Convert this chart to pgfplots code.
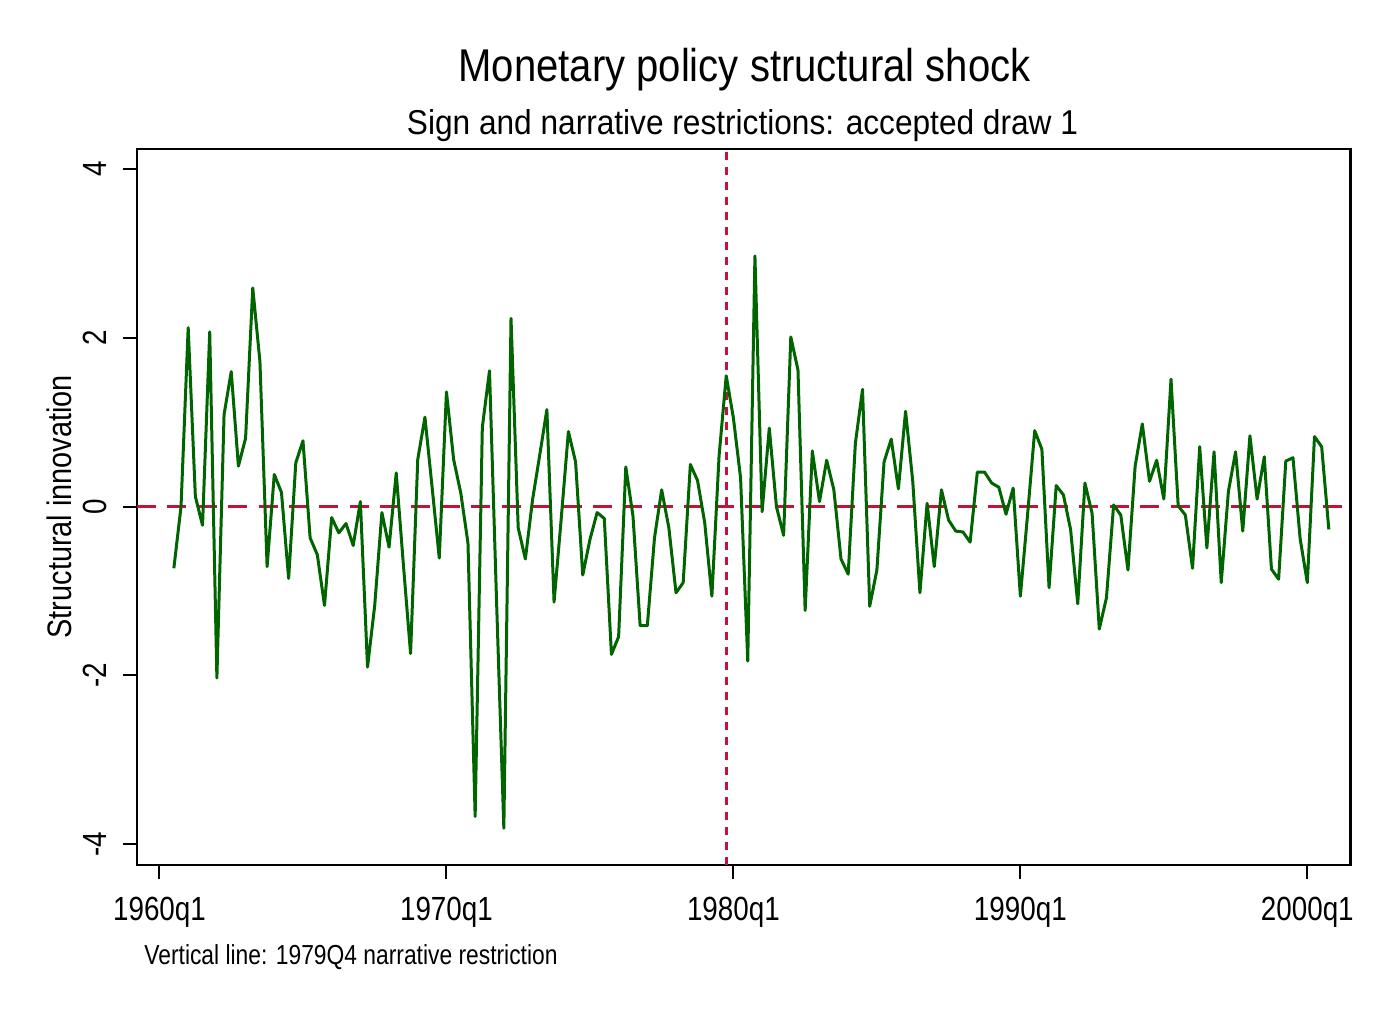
\documentclass[border=0pt]{standalone}
\usepackage{graphicx}
\usepackage{pgfplots}
\pgfplotsset{compat=1.18}
\usepackage{fontspec}
\setmainfont{Liberation Sans}
\definecolor{dkgreen}{RGB}{0,100,0}
\definecolor{cran}{RGB}{196,18,58}
\newcommand{\tk}[1]{\scalebox{0.83}[1]{\fontsize{16.75pt}{16.75pt}\selectfont #1}}

\pgfplotstableread{
q v
2 -0.73
3 0.00
4 2.12
5 0.12
6 -0.22
7 2.07
8 -2.03
9 1.09
10 1.60
11 0.48
12 0.81
13 2.59
14 1.72
15 -0.71
16 0.38
17 0.17
18 -0.85
19 0.52
20 0.78
21 -0.37
22 -0.57
23 -1.17
24 -0.13
25 -0.31
26 -0.20
27 -0.46
28 0.06
29 -1.90
30 -1.17
31 -0.07
32 -0.48
33 0.40
34 -0.69
35 -1.74
36 0.56
37 1.06
38 0.23
39 -0.61
40 1.36
41 0.56
42 0.16
43 -0.43
44 -3.67
45 0.94
46 1.61
47 -1.16
48 -3.81
49 2.23
50 -0.25
51 -0.62
52 0.08
53 0.61
54 1.15
55 -1.13
56 -0.14
57 0.89
58 0.53
59 -0.81
60 -0.39
61 -0.07
62 -0.14
63 -1.75
64 -1.54
65 0.47
66 -0.11
67 -1.41
68 -1.41
69 -0.37
70 0.20
71 -0.25
72 -1.02
73 -0.90
74 0.50
75 0.31
76 -0.19
77 -1.06
78 0.60
79 1.55
80 1.05
81 0.34
82 -1.83
83 2.97
84 -0.06
85 0.93
86 0.00
87 -0.34
88 2.01
89 1.62
90 -1.23
91 0.66
92 0.06
93 0.55
94 0.20
95 -0.62
96 -0.80
97 0.75
98 1.39
99 -1.18
100 -0.75
101 0.53
102 0.80
103 0.21
104 1.13
105 0.30
106 -1.02
107 0.04
108 -0.71
109 0.20
110 -0.16
111 -0.29
112 -0.30
113 -0.42
114 0.41
115 0.41
116 0.28
117 0.23
118 -0.09
119 0.22
120 -1.06
121 -0.10
122 0.90
123 0.68
124 -0.96
125 0.25
126 0.14
127 -0.27
128 -1.15
129 0.28
130 -0.08
131 -1.45
132 -1.08
133 0.02
134 -0.10
135 -0.75
136 0.48
137 0.98
138 0.30
139 0.55
140 0.09
141 1.51
142 0.01
143 -0.10
144 -0.73
145 0.71
146 -0.49
147 0.65
148 -0.90
149 0.18
150 0.65
151 -0.29
152 0.84
153 0.09
154 0.59
155 -0.74
156 -0.86
157 0.54
158 0.58
159 -0.38
160 -0.90
161 0.83
162 0.71
163 -0.27
}\shock

\begin{document}
\begin{tikzpicture}
\path[use as bounding box] (0pt,0pt) rectangle (693.5pt,504.5pt);
\begin{axis}[
  at={(68.5pt,72pt)}, anchor=south west,
  scale only axis, width=606.75pt, height=358pt,
  xmin=-3.136, xmax=166.02, ymin=-4.245, ymax=4.237,
  axis line style={line width=1.2pt, black},
  xtick={0,40,80,120,160}, ytick={-4,-2,0,2,4},
  xticklabels={}, yticklabels={},
  tick align=outside, major tick length=7pt,
  tick style={line width=1pt, black},
  xtick pos=bottom, ytick pos=left,
  clip=false,
]
\addplot[cran, line width=1.3pt, dash pattern=on 9.5pt off 5.7pt] coordinates {(-3.136,0) (166.02,0)};
\addplot[cran, line width=1.3pt, dash pattern=on 4pt off 3.5pt] coordinates {(79,-4.245) (79,4.237)};
\addplot[dkgreen, line width=1.5pt, line join=round] table[x=q, y=v] {\shock};
% x tick labels
\node[anchor=base] at ([yshift=-27.5pt]axis cs:0,-4.245) {\tk{1960q1}};
\node[anchor=base] at ([yshift=-27.5pt]axis cs:40,-4.245) {\tk{1970q1}};
\node[anchor=base] at ([yshift=-27.5pt]axis cs:80,-4.245) {\tk{1980q1}};
\node[anchor=base] at ([yshift=-27.5pt]axis cs:120,-4.245) {\tk{1990q1}};
\node[anchor=base] at ([yshift=-27.5pt]axis cs:160,-4.245) {\tk{2000q1}};
% y tick labels
\node[rotate=90, anchor=base] at ([xshift=-15pt]axis cs:-3.136,4) {\tk{4}};
\node[rotate=90, anchor=base] at ([xshift=-15pt]axis cs:-3.136,2) {\tk{2}};
\node[rotate=90, anchor=base] at ([xshift=-15pt]axis cs:-3.136,0) {\tk{0}};
\node[rotate=90, anchor=base] at ([xshift=-15pt]axis cs:-3.136,-2) {\tk{-2}};
\node[rotate=90, anchor=base] at ([xshift=-15pt]axis cs:-3.136,-4) {\tk{-4}};
% y label
\node[rotate=90, anchor=base] at ([xshift=-32.5pt]axis cs:-3.136,0) {\scalebox{0.85}[1]{\fontsize{17pt}{17pt}\selectfont Structural innovation}};
\end{axis}
\node[anchor=base] at (372.25pt,463.5pt) {\resizebox{286pt}{16.65pt}{\fontsize{23pt}{23pt}\selectfont Monetary policy structural shock}};
\node[anchor=base] at (371.25pt,437.25pt) {\resizebox{335.5pt}{12.5pt}{\fontsize{17pt}{17pt}\selectfont Sign and narrative restrictions: accepted draw 1}};
\node[anchor=base west, inner sep=0pt] at (72pt,22.5pt) {\scalebox{0.83}[1]{\fontsize{13.75pt}{13.75pt}\selectfont Vertical line: 1979Q4 narrative restriction}};
\end{tikzpicture}
\end{document}
